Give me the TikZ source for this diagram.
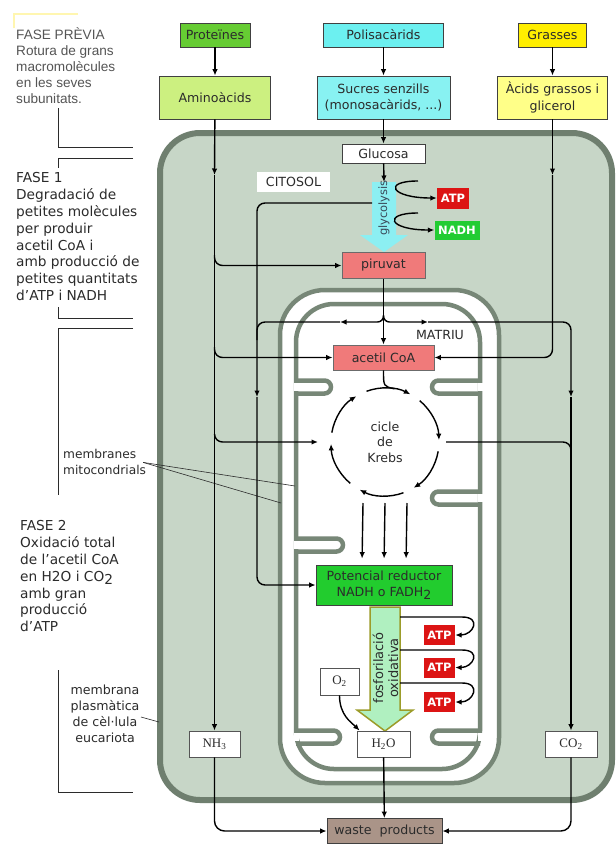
\documentclass[tikz,border=0pt]{standalone}
\usepackage{fontspec}
\setmainfont{DejaVu Sans}
\newfontfamily\arialfont{Liberation Sans}
\newfontfamily\timesfont{Liberation Serif}
\usetikzlibrary{arrows.meta}
\definecolor{krink}{HTML}{2B2B2B}
\definecolor{krmute}{HTML}{555555}
\definecolor{krprot}{HTML}{66CC33}
\definecolor{kramino}{HTML}{CCF080}
\definecolor{krpol}{HTML}{6CF0F0}
\definecolor{krsucre}{HTML}{88F2F2}
\definecolor{krgras}{HTML}{FFEE00}
\definecolor{kracid}{HTML}{FFFF88}
\definecolor{krpink}{HTML}{F07A7A}
\definecolor{krred}{HTML}{DC1414}
\definecolor{krgreen}{HTML}{22CC33}
\definecolor{krpot}{HTML}{22CC2E}
\definecolor{krwaste}{HTML}{AA9488}
\definecolor{krgly}{HTML}{8CEFF2}
\definecolor{krglytxt}{HTML}{3A4A5A}
\definecolor{krfos}{HTML}{B0F0C0}
\definecolor{krfosb}{HTML}{9C9C2A}
\definecolor{krcell}{HTML}{C7D6C7}
\definecolor{krcellb}{HTML}{6F7F6F}
\definecolor{krmem}{HTML}{778777}
\definecolor{krpale}{HTML}{FFF6B0}
\tikzset{
  bx/.style={draw=krink!90, line width=0.8pt, align=center, inner sep=0pt, text=krink, font=\fontsize{12.6}{16.5}\selectfont},
  tbx/.style={bx, minimum height=24pt},
  sbx/.style={bx, minimum height=43pt},
  wbx/.style={bx, fill=white, minimum height=19pt},
  pk/.style={bx, fill=krpink, draw=krink!70},
  tagbx/.style={inner sep=0pt, align=center, text=white, font=\bfseries\fontsize{11.5}{13}\selectfont, minimum height=20pt},
  chem/.style={bx, fill=white, draw=krink!80, font=\timesfont\fontsize{13}{15}\selectfont, minimum height=26pt},
  txt/.style={inner sep=0pt, align=center, text=krink, font=\fontsize{12.6}{15.5}\selectfont},
  fase/.style={inner sep=0pt, align=left, anchor=north west, text=krink, font=\fontsize{13.7}{16.8}\selectfont},
  arr/.style={-{Latex[length=6.5pt,width=5.5pt]}, line width=1.4pt},
  ln/.style={line width=1.4pt},
  mem/.style={draw=krmem, line width=4.5pt},
  brk/.style={draw=krink, line width=0.9pt},
  ptr/.style={draw=krink, line width=0.6pt},
}
\begin{document}
\begin{tikzpicture}[x=1pt, y=-1pt]
  \useasboundingbox (0,0) rectangle (616,844);
  \fill[white] (0,0) rectangle (616,844);
  \draw[krcellb, fill=krcell, line width=6pt, rounded corners=40pt] (160,133) rectangle (612,800);
  \draw[mem, fill=white, rounded corners=45pt] (280,290) rectangle (499,783);
  \draw[mem, rounded corners=38pt] (296,304) rectangle (480,769);
  \foreach \yc/\tx in {387/331, 545/343, 737/340} {
    \fill[white] (293.5,\yc-4.3) rectangle (298.5,\yc+4.3);
    \draw[mem] (296,\yc-6.5) -- (\tx-6.5,\yc-6.5) arc[start angle=-90, end angle=90, radius=6.5] -- (296,\yc+6.5);
  }
  \foreach \yc/\tx in {387/432, 498/432, 737/432} {
    \fill[white] (477.5,\yc-4.3) rectangle (482.5,\yc+4.3);
    \draw[mem] (480,\yc-6.5) -- (\tx+6.5,\yc-6.5) arc[start angle=-90, end angle=-270, radius=6.5] -- (480,\yc+6.5);
  }
  \fill[krgly] (372,182) -- (396,182) -- (396,235) -- (408,235) -- (384,252) -- (360,235) -- (372,235) -- cycle;
  \draw[krfosb, fill=krfos, line width=1.5pt] (370,607) -- (400,607) -- (400,710) -- (413,710) -- (385,731) -- (357,710) -- (370,710) -- cycle;

  \draw[krpale, line width=2.5pt] (14,28) -- (14,14) -- (78,14);
  \node[fase, text=krmute, font=\arialfont\fontsize{13.6}{15.8}\selectfont] (f0) at (16,28) {FASE PRÈVIA\\Rotura de grans\\macromolècules\\en les seves\\subunitats.};
  \node[fase] (f1) at (16,172.5) {FASE 1\\Degradació de\\petites molècules\\per produir\\acetil CoA i\\amb producció de\\petites quantitats\\d'ATP i NADH};
  \node[fase] (f2) at (20,520.5) {FASE 2\\Oxidació total\\de l'acetil CoA\\en H2O i CO\raisebox{-3pt}{2}\\amb gran\\producció\\d'ATP};
  \node[txt, align=left, anchor=north west, font=\fontsize{12.2}{16}\selectfont] (memb) at (63,449.5) {membranes\\mitocondrials};
  \node[txt, anchor=north, font=\fontsize{12.6}{16}\selectfont] (pm) at (105,685) {membrana\\plasmàtica\\de cèl·lula\\eucariota};
  \draw[brk] (58,108) -- (58,147) -- (133,147);
  \draw[brk] (133,158) -- (58,158) -- (58,168);
  \draw[brk] (58,307) -- (58,318) -- (133,318);
  \draw[brk] (133,328) -- (58,328) -- (58,495);
  \draw[brk] (58,670) -- (58,792) -- (133,792);
  \coordinate (imem) at (295,486);
  \coordinate (omem) at (281,503);
  \coordinate (pmA) at (141,717);
  \coordinate (pmB) at (159,722);
  \draw[ptr] ([xshift=-3pt]memb.east) -- (imem);
  \draw[ptr] ([xshift=-3pt]memb.east) -- (omem);
  \draw[ptr] (pmA) -- (pmB);

  \node[tbx, fill=krprot, minimum width=70pt] (prot) at (215,35) {Proteïnes};
  \node[tbx, fill=krpol, minimum width=120pt] (pol) at (383.5,35) {Polisacàrids};
  \node[tbx, fill=krgras, minimum width=68pt] (gras) at (552.5,35) {Grasses};
  \node[sbx, fill=kramino, minimum width=111pt] (amino) at (215,97.5) {Aminoàcids};
  \node[sbx, fill=krsucre, minimum width=133pt] (sucre) at (383.5,97.5) {Sucres senzills\\(monosacàrids, ...)};
  \node[sbx, fill=kracid, minimum width=110pt] (acid) at (552.5,97.5) {Àcids grassos i\\glicerol};
  \node[wbx, minimum width=83pt] (gluc) at (383.5,153.5) {Glucosa};
  \node[txt, fill=white, minimum width=73pt, minimum height=20pt] (cit) at (293.5,182) {CITOSOL};
  \node[txt, rotate=90, text=krglytxt, font=\fontsize{11.5}{13}\selectfont] (glyt) at (384,208) {glycolysis};
  \node[tagbx, fill=krred, minimum width=32pt, minimum height=21pt] (atpA) at (453,198) {ATP};
  \node[tagbx, fill=krgreen, minimum width=45pt, minimum height=19pt] (nadh) at (457,230) {NADH};
  \node[pk, minimum width=83pt, minimum height=26pt] (piru) at (383.5,265.5) {piruvat};
  \node[pk, minimum width=101pt, minimum height=25pt] (acet) at (383.5,357.5) {acetil CoA};
  \node[txt] (matr) at (440,335) {MATRIU};
  \node[txt] (krebs) at (385,442) {cicle\\de\\Krebs};
  \node[bx, fill=krpot, minimum width=136pt, minimum height=40pt, font=\fontsize{12.6}{16}\selectfont] (pot) at (384,585) {Potencial reductor\\NADH o FADH\raisebox{-3pt}{2}};
  \node[txt, rotate=90, font=\fontsize{13}{15}\selectfont] (fos) at (385.5,668) {fosforilació\\oxidativa};
  \foreach \n/\y in {1/635, 2/667.5, 3/702}
    \node[tagbx, fill=krred, minimum width=31pt] (atp\n) at (439.5,\y) {ATP};
  \node[chem, minimum width=39pt, minimum height=27pt] (o2) at (339.5,681.5) {O\textsubscript{2}};
  \node[chem, minimum width=53pt] (h2o) at (383.5,744) {H\textsubscript{2}O};
  \node[chem, minimum width=51pt] (nh3) at (214.5,744) {NH\textsubscript{3}};
  \node[chem, minimum width=52pt] (co2) at (571,744) {CO\textsubscript{2}};
  \node[bx, fill=krwaste, minimum width=115pt, minimum height=25pt] (waste) at (384.5,831) {waste\hspace{4pt} products};

  \coordinate (glyT) at (384,182);
  \coordinate (glyL) at (372,203);
  \coordinate (atpS) at (418,181);
  \coordinate (nadS) at (418,213);
  \coordinate (a1) at (214.5,175);
  \coordinate (aP) at (214.5,255);
  \coordinate (aA) at (214.5,347);
  \coordinate (aK) at (214.5,434);
  \coordinate (kL) at (318,442);
  \coordinate (kR) at (446,442);
  \coordinate (kRj) at (571,462);
  \coordinate (g1) at (552.5,175);
  \coordinate (jn) at (383.5,315);
  \coordinate (mL) at (340,322);
  \coordinate (mR) at (428,322);
  \coordinate (lj) at (257,340);
  \coordinate (m1) at (257,397);
  \coordinate (m3) at (571,397);

  \draw[arr] (prot) -- (amino);
  \draw[arr] (pol) -- (sucre);
  \draw[arr] (gras) -- (acid);
  \draw[arr] (sucre) -- (gluc);
  \draw[arr] (gluc) -- (glyT);
  \draw[arr] (atpS) .. controls +(-36,0) and +(-46,0) .. (atpA.west);
  \draw[arr] (nadS) .. controls +(-36,0) and +(-46,0) .. (nadh.west);
  \draw[arr, rounded corners=8pt] (glyL) -| (m1);
  \draw[arr, rounded corners=8pt] (m1) |- (pot.west);
  \draw[arr] (piru) -- (acet);
  \draw[arr, rounded corners=6pt] (jn) |- (mL);
  \draw[ln, rounded corners=8pt] (mL) -| (lj);
  \draw[arr, rounded corners=6pt] (jn) |- (mR);
  \draw[arr, rounded corners=8pt] (mR) -| (m3);
  \draw[arr] (m3) -- (co2);
  \draw[ln, rounded corners=8pt] (kR) -| (kRj);
  \draw[arr] (amino) -- (a1);
  \draw[arr] (a1) -- (nh3);
  \draw[arr, rounded corners=8pt] (aP) |- (piru.west);
  \draw[arr, rounded corners=8pt] (aA) |- (acet.west);
  \draw[arr, rounded corners=8pt] (aK) |- (kL);
  \draw[arr] (acid) -- (g1);
  \draw[arr, rounded corners=8pt] (g1) |- (acet.east);
  \draw[ln] (acet.south) .. controls +(0,16) .. ([shift={(-80:54)}]krebs.center);
  \foreach \a in {-110,-50,10,70,130,190}
    \draw[arr] ([shift={(\a:54)}]krebs.center) arc[start angle=\a, end angle=\a+48, radius=54];
  \foreach \dx in {-22,0,22}
    \draw[arr, shorten >=6pt] ([shift={(\dx,61)}]krebs.center) -- ([xshift=\dx]pot.north);
  \foreach \n/\y in {1/617, 2/650, 3/683} {
    \coordinate (fo\n) at (400,\y);
    \draw[arr] (fo\n) -- ++(62,0) .. controls +(20,0) and +(18,0) .. (atp\n.east);
  }
  \draw[arr] (o2.south) .. controls +(0,20) and +(-8,-8) .. ([xshift=3pt]h2o.north west);
  \draw[arr] (h2o) -- (waste);
  \draw[arr, rounded corners=10pt] (nh3.south) |- (waste.west);
  \draw[arr, rounded corners=10pt] (co2.south) |- (waste.east);
\end{tikzpicture}
\end{document}
